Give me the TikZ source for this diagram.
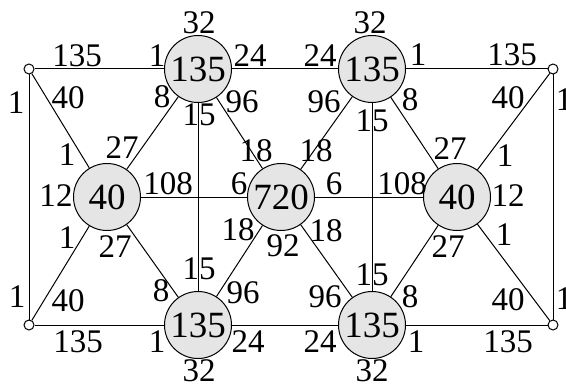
\documentclass[tikz,border=0pt]{standalone}
\usepackage{fontspec}
\setmainfont{Liberation Serif}

\begin{document}
\begin{tikzpicture}[x=0.5pt, y=-0.5pt,
    big/.style={circle, draw, fill=gray!20, line width=0.5pt, minimum size=33.5pt, inner sep=0pt, font=\fontsize{18.5}{18.5}\selectfont},
    dot/.style={circle, draw, fill=white, line width=0.5pt, minimum size=5pt, inner sep=0pt},
    lbl/.style={inner sep=0pt, font=\fontsize{16.5}{17}\selectfont}]
    \useasboundingbox (0,0) rectangle (566,385);

    % Corner points
    \node[dot] (tlc) at (29,69) {};
    \node[dot] (trc) at (553,69) {};
    \node[dot] (blc) at (29,325) {};
    \node[dot] (brc) at (553,325) {};

    % Weighted vertices
    \node[big] (ta) at (198,69) {135};
    \node[big] (tb) at (372,69) {135};
    \node[big] (ml) at (107,197) {40};
    \node[big] (mc) at (281,197) {720};
    \node[big] (mr) at (457,197) {40};
    \node[big] (ba) at (198,325) {135};
    \node[big] (bb) at (372,325) {135};

    % Edges
    \begin{scope}[line width=0.5pt]
    \draw (tlc) -- (ta);  \draw (ta) -- (tb);  \draw (tb) -- (trc);
    \draw (blc) -- (ba);  \draw (ba) -- (bb);  \draw (bb) -- (brc);
    \draw (tlc) -- (blc); \draw (trc) -- (brc);
    \draw (ta) -- (ba);   \draw (tb) -- (bb);
    \draw (ml) -- (mc);   \draw (mc) -- (mr);
    \draw (tlc) -- (ml);  \draw (blc) -- (ml);
    \draw (trc) -- (mr);  \draw (brc) -- (mr);
    \draw (ta) -- (ml);   \draw (ba) -- (ml);
    \draw (tb) -- (mr);   \draw (bb) -- (mr);
    \draw (ta) -- (mc);   \draw (tb) -- (mc);
    \draw (ba) -- (mc);   \draw (bb) -- (mc);
    \end{scope}

    % Labels, top left
    \node[lbl] (l1) at (77,56) {135};
    \node[lbl] (l2) at (157,56) {1};
    \node[lbl] (l3) at (199,23) {32};
    \node[lbl] (l4) at (250,56) {24};
    \node[lbl] (l5) at (16,103) {1};
    \node[lbl] (l6) at (68,98) {40};
    \node[lbl] (l7) at (67,155) {1};
    \node[lbl] (l8) at (162,97) {8};
    \node[lbl] (l9) at (122,148) {27};
    \node[lbl] (l10) at (199,115) {15};
    \node[lbl] (l11) at (242,102) {96};
    \node[lbl] (l12) at (256,151) {18};
    \node[lbl] (l13) at (168,184) {108};
    \node[lbl] (l14) at (239,184) {6};
    \node[lbl] (l15) at (56,196) {12};

    % Labels, top right
    \node[lbl] (l16) at (320,56) {24};
    \node[lbl] (l17) at (418,55) {1};
    \node[lbl] (l18) at (512,55) {135};
    \node[lbl] (l19) at (370,23) {32};
    \node[lbl] (l20) at (324,102) {96};
    \node[lbl] (l21) at (316,151) {18};
    \node[lbl] (l22) at (372,121) {15};
    \node[lbl] (l23) at (410,100) {8};
    \node[lbl] (l24) at (450,149) {27};
    \node[lbl] (l25) at (508,98) {40};
    \node[lbl] (l26) at (505,156) {1};
    \node[lbl] (l27) at (508,196) {12};
    \node[lbl] (l28) at (334,184) {6};
    \node[lbl] (l29) at (402,184) {108};
    \node[lbl] (l30) at (564,100) {1};

    % Labels, bottom left
    \node[lbl] (l31) at (67,238) {1};
    \node[lbl] (l32) at (68,301) {40};
    \node[lbl] (l33) at (17,297) {1};
    \node[lbl] (l34) at (115,247) {27};
    \node[lbl] (l35) at (161,291) {8};
    \node[lbl] (l36) at (199,269) {15};
    \node[lbl] (l37) at (238,230) {18};
    \node[lbl] (l38) at (243,293) {96};
    \node[lbl] (l39) at (78,342) {135};
    \node[lbl] (l40) at (157,342) {1};
    \node[lbl] (l41) at (199,371) {32};
    \node[lbl] (l42) at (248,342) {24};
    \node[lbl] (l43) at (283,246) {92};

    % Labels, bottom right
    \node[lbl] (l44) at (326,231) {18};
    \node[lbl] (l45) at (325,297) {96};
    \node[lbl] (l46) at (372,275) {15};
    \node[lbl] (l47) at (320,342) {24};
    \node[lbl] (l48) at (416,342) {1};
    \node[lbl] (l49) at (372,371) {32};
    \node[lbl] (l50) at (508,342) {135};
    \node[lbl] (l51) at (448,247) {27};
    \node[lbl] (l52) at (410,297) {8};
    \node[lbl] (l53) at (504,235) {1};
    \node[lbl] (l54) at (508,300) {40};
    \node[lbl] (l55) at (564,299) {1};
\end{tikzpicture}
\end{document}
